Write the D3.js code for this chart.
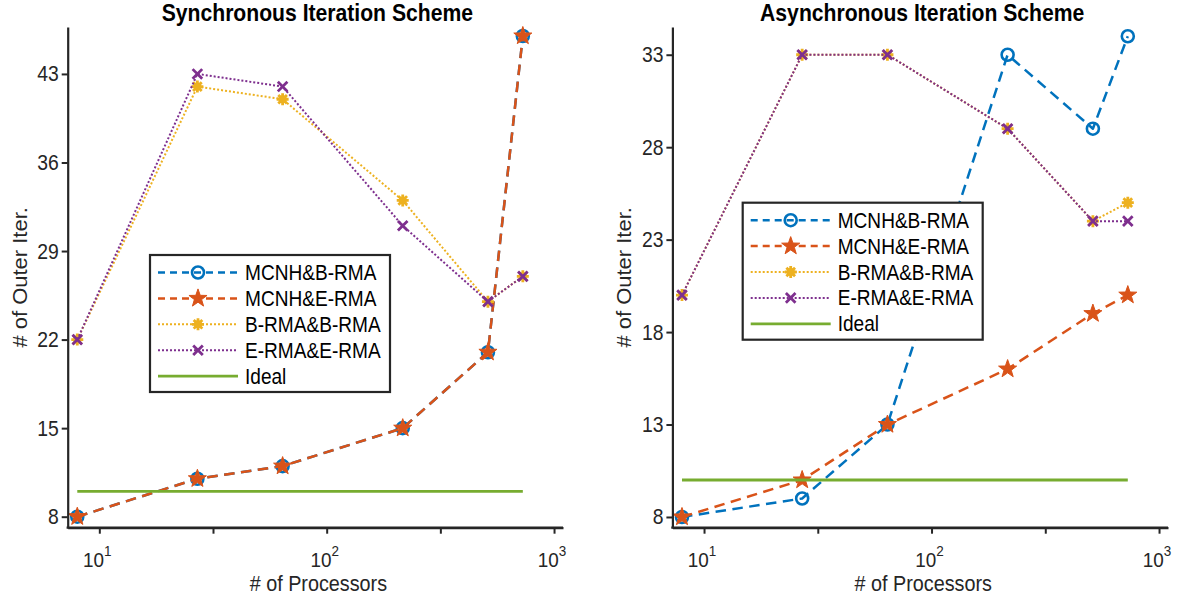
<!DOCTYPE html>
<html>
<head>
<meta charset="utf-8">
<script src="https://cdn.jsdelivr.net/npm/d3@7"></script>
<style>
  html, body { margin: 0; padding: 0; background: #ffffff; }
  svg { display: block; font-family: "Liberation Sans", Arial, Helvetica, sans-serif; }
</style>
</head>
<body>
<svg id="fig" width="1186" height="601"></svg>
<script>
// Processor counts (x values, log scale)
const procs = [8, 27, 64, 216, 512, 729];

// Synchronous scheme: outer iterations
const syncMcnhB = [8, 11, 12, 15, 21, 46];
const syncMcnhE = [8, 11, 12, 15, 21, 46];
const syncBB    = [22, 42, 41, 33, 25, 27];
const syncEE    = [22, 43, 42, 31, 25, 27];
const syncIdeal = [10, 10, 10, 10, 10, 10];

// Asynchronous scheme: outer iterations
const asyncMcnhB = [8, 9, 13, 33, 29, 34];
const asyncMcnhE = [8, 10, 13, 16, 19, 20];
const asyncBB    = [20, 33, 33, 29, 24, 25];
const asyncEE    = [20, 33, 33, 29, 24, 24];
const asyncIdeal = [10, 10, 10, 10, 10, 10];

// Tick values
const xTicks = [10, Math.pow(10, 1.5), 100, Math.pow(10, 2.5), 1000];
const xLabelTicks = [10, 100, 1000];
const xLabelExp = ["1", "2", "3"];
const syncYTicks = [8, 15, 22, 29, 36, 43];
const asyncYTicks = [8, 13, 18, 23, 28, 33];

const seriesNames = ["MCNH&B-RMA", "MCNH&E-RMA", "B-RMA&B-RMA", "E-RMA&E-RMA", "Ideal"];

const axisColor = "#262626";
const squeeze = 0.9; // text is set slightly condensed horizontally
const styles = [
  { color: "#0072BD", dash: "10.5,6.5", width: 2.5, marker: "circle" },
  { color: "#D95319", dash: "10.5,6.5", width: 2.5, marker: "star" },
  { color: "#EDB120", dash: "2,2", width: 2, marker: "asterisk" },
  { color: "#7E2F8E", dash: "2,2", width: 2, marker: "cross" },
  { color: "#77AC30", dash: null, width: 2.8, marker: null }
];

const svg = d3.select("#fig");

function addText(g, x, y, str, size, anchor, extra) {
  const t = g.append("text")
    .attr("transform", `translate(${x},${y}) scale(${squeeze},1)${extra || ""}`)
    .attr("text-anchor", anchor).attr("font-size", size).attr("fill", axisColor);
  if (str !== null) t.text(str);
  return t;
}

function drawMarker(g, type, x, y, color) {
  if (type === "circle") {
    g.append("circle").attr("cx", x).attr("cy", y).attr("r", 6)
      .attr("fill", "none").attr("stroke", color).attr("stroke-width", 2.6);
  } else if (type === "star") {
    const pts = [];
    for (let k = 0; k < 10; k++) {
      const r = k % 2 === 0 ? 9.5 : 3.8;
      const a = -Math.PI / 2 + k * Math.PI / 5;
      pts.push([x + r * Math.cos(a), y + r * Math.sin(a)]);
    }
    g.append("path").attr("d", d3.line()(pts) + "Z")
      .attr("fill", color).attr("stroke", color).attr("stroke-width", 1);
  } else if (type === "asterisk") {
    const r = 6;
    const d = `M${x - r},${y}L${x + r},${y}M${x},${y - r}L${x},${y + r}` +
      `M${x - r * 0.72},${y - r * 0.72}L${x + r * 0.72},${y + r * 0.72}` +
      `M${x - r * 0.72},${y + r * 0.72}L${x + r * 0.72},${y - r * 0.72}`;
    g.append("path").attr("d", d).attr("stroke", color).attr("stroke-width", 2.8)
      .attr("fill", "none");
    g.append("circle").attr("cx", x).attr("cy", y).attr("r", 4).attr("fill", color);
  } else if (type === "cross") {
    const r = 4.8;
    const d = `M${x - r},${y - r}L${x + r},${y + r}M${x - r},${y + r}L${x + r},${y - r}`;
    g.append("path").attr("d", d).attr("stroke", color).attr("stroke-width", 2.8)
      .attr("fill", "none");
  }
}

function drawPanel(opts) {
  const { left, right, top, bottom, yDomain, yTicks, series, title, legend } = opts;
  const x = d3.scaleLog().domain([7.26, 1095]).range([left, right]);
  const y = d3.scaleLinear().domain(yDomain).range([bottom, top]);
  const g = svg.append("g");

  // Data lines and markers
  series.forEach((vals, i) => {
    const st = styles[i];
    const data = procs.map((p, j) => [p, vals[j]]);
    const line = d3.line().x(d => x(d[0])).y(d => y(d[1]));
    const path = g.append("path").datum(data).attr("d", line)
      .attr("fill", "none").attr("stroke", st.color).attr("stroke-width", st.width)
      .attr("stroke-linejoin", "round");
    if (st.dash) path.attr("stroke-dasharray", st.dash);
    if (st.marker) data.forEach(d => drawMarker(g, st.marker, x(d[0]), y(d[1]), st.color));
  });

  // X axis: ticks every half decade, labels at decades
  const xAxis = d3.axisBottom(x).tickValues(xTicks).tickFormat(() => "").tickSize(6).tickSizeOuter(0);
  const gx = g.append("g").attr("transform", `translate(0,${bottom})`).call(xAxis);
  gx.select(".domain").attr("stroke", axisColor).attr("stroke-width", 2.2);
  gx.selectAll(".tick line").attr("stroke", axisColor).attr("stroke-width", 2);

  xLabelTicks.forEach((t, i) => {
    const txt = addText(g, x(t) - 2, bottom + 39, null, 21, "middle");
    txt.append("tspan").text("10");
    txt.append("tspan").attr("dy", -11).attr("font-size", 15).text(xLabelExp[i]);
  });

  // Y axis
  const yAxis = d3.axisLeft(y).tickValues(yTicks).tickSize(6).tickSizeOuter(0).tickFormat(() => "");
  const gy = g.append("g").attr("transform", `translate(${left},0)`).call(yAxis);
  gy.select(".domain").attr("stroke", axisColor).attr("stroke-width", 2.2);
  gy.selectAll(".tick line").attr("stroke", axisColor).attr("stroke-width", 2);
  yTicks.forEach(v => addText(g, left - 9, y(v) + 7.5, String(v), 21.5, "end"));

  // Close the corner where both axes meet
  g.append("line").attr("x1", left - 1.1).attr("x2", right).attr("y1", bottom).attr("y2", bottom)
    .attr("stroke", axisColor).attr("stroke-width", 2.2);

  // Title and axis labels
  addText(g, (left + right) / 2 + 2, 21, title, 23.5, "middle")
    .attr("font-weight", "bold").attr("fill", "#000");
  addText(g, (left + right) / 2 + 3, 591, "# of Processors", 22, "middle");
  g.append("text")
    .attr("transform", `translate(${left - 41},${(top + bottom) / 2}) scale(${squeeze},1) rotate(-90)`)
    .attr("text-anchor", "middle").attr("font-size", 22).attr("fill", axisColor)
    .text("# of Outer Iter.");

  // Legend
  const lg = g.append("g");
  lg.append("rect").attr("x", legend.x).attr("y", legend.y).attr("width", 240).attr("height", 137)
    .attr("fill", "#fff").attr("stroke", axisColor).attr("stroke-width", 2.2);
  seriesNames.forEach((name, i) => {
    const st = styles[i];
    const ry = legend.y + 17.5 + i * 25.9;
    const ln = lg.append("line").attr("x1", legend.x + 8).attr("x2", legend.x + 88)
      .attr("y1", ry).attr("y2", ry).attr("stroke", st.color).attr("stroke-width", st.width);
    if (st.dash) ln.attr("stroke-dasharray", st.dash === "2,2" ? st.dash : "7,5");
    if (st.marker) drawMarker(lg, st.marker, legend.x + 48, ry, st.color);
    addText(lg, legend.x + 95, ry + 7.5, name, 21.2, "start").attr("fill", "#000");
  });
}

drawPanel({
  left: 67.7, right: 563, top: 27, bottom: 527.7,
  yDomain: [7.13, 46.71], yTicks: syncYTicks,
  series: [syncMcnhB, syncMcnhE, syncBB, syncEE, syncIdeal],
  title: "Synchronous Iteration Scheme",
  legend: { x: 150, y: 255 }
});

drawPanel({
  left: 672.4, right: 1168, top: 27, bottom: 527.7,
  yDomain: [7.42, 34.5], yTicks: asyncYTicks,
  series: [asyncMcnhB, asyncMcnhE, asyncBB, asyncEE, asyncIdeal],
  title: "Asynchronous Iteration Scheme",
  legend: { x: 742.7, y: 202.7 }
});
</script>
</body>
</html>
